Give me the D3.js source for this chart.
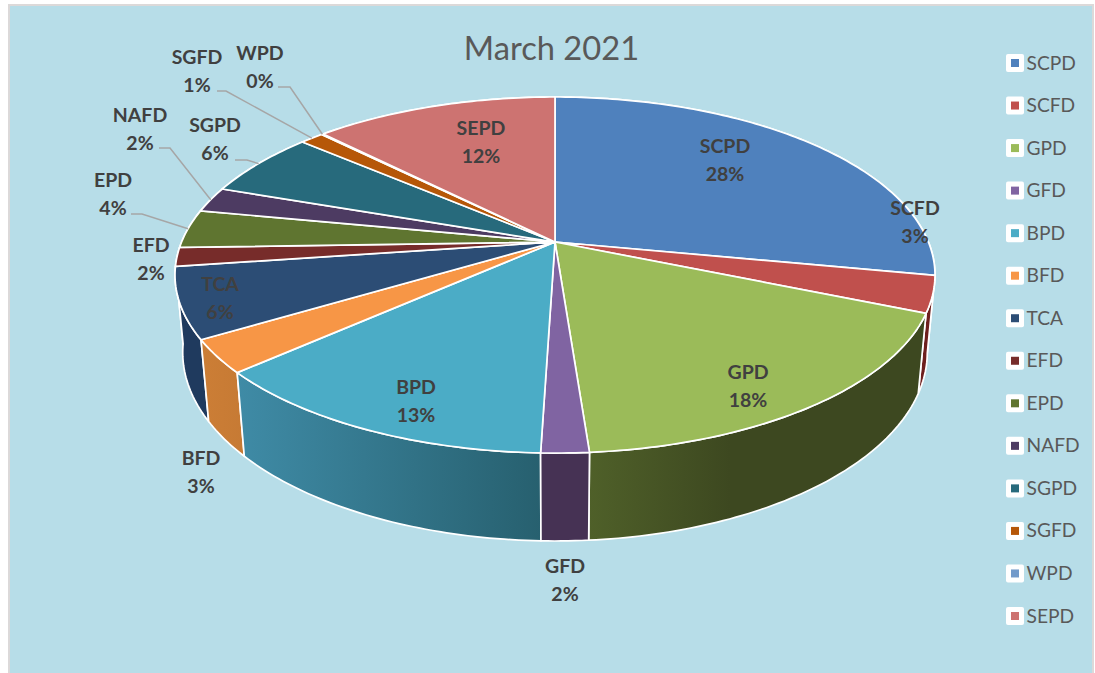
<!DOCTYPE html>
<html>
<head>
<meta charset="utf-8">
<script src="https://cdn.jsdelivr.net/npm/d3@7"></script>
<style>
  html, body { margin: 0; padding: 0; background: #fff; }
  svg { display: block; }
</style>
</head>
<body>
<svg width="1095" height="673"></svg>
<script>
var chartTitle = "March 2021";
var categories = ["SCPD", "SCFD", "GPD", "GFD", "BPD", "BFD", "TCA", "EFD", "EPD", "NAFD", "SGPD", "SGFD", "WPD", "SEPD"];
var shares = [28, 3.3, 17.5, 1.7, 12.9, 3, 6.4, 1.7, 3.5, 2.3, 6, 1.2, 0.1, 12.4];
var topColors = ["#4f81bd", "#c0504d", "#9bbb59", "#8064a2", "#4bacc6", "#f79646", "#2c4d75", "#772c2a", "#5f7530", "#4d3b62", "#276a7c", "#b65708", "#729aca", "#cd7371"];
// wall shading, left to right
var wallLeft = ["#2f4d71", "#6e1f1e", "#4f6029", "#463254", "#3f8ba6", "#cc7e36", "#1f3a5e", "#4a1a19", "#3c4a1e", "#2f243d", "#184250", "#713605", "#47607e", "#7f4746"];
var wallRight = ["#2f4d71", "#6e1f1e", "#3d4820", "#463254", "#27606f", "#c67a34", "#1f3a5e", "#4a1a19", "#3c4a1e", "#2f243d", "#184250", "#713605", "#47607e", "#7f4746"];

// label centres, and where a leader line leaves the label (if it has one)
var labelAt = {
  SCPD: [725, 160], SCFD: [915, 222], GPD: [748, 386], GFD: [565, 580], BPD: [416, 401], BFD: [201, 472], TCA: [220, 298],
  EFD: [151, 259], EPD: [113, 194], NAFD: [140, 129], SGPD: [215, 139], SGFD: [197, 71], WPD: [260, 67], SEPD: [481, 142]
};
var leaderFrom = {
  EPD: [[131, 214], [142, 214]], NAFD: [[159, 148], [170, 148]], SGPD: [[235, 160], [247, 160]],
  SGFD: [[217, 91], [226, 91]], WPD: [[278, 87], [290, 87]]
};

var svg = d3.select("svg");
var defs = svg.append("defs");

// chart area
svg.append("rect").attr("x", 8).attr("y", 4).attr("width", 1086).attr("height", 669).attr("fill", "#dcd9d9");
svg.append("rect").attr("x", 10).attr("y", 6).attr("width", 1082).attr("height", 667).attr("fill", "#b7dde8");

// perspective of the pie: u is across, v is into the page, z is the drop to the bottom face
var apex = [555, 242], a = 373.4, b = 171.9, k = 0.1855, drop = 77.6, dropW = 0.02;
function project(angle, z) {
  var u = Math.sin(angle), v = Math.cos(angle), w = 1 + k * v + dropW * z;
  return [apex[0] + a * u / w, apex[1] + (-b * v + drop * z) / w];
}

var pie = d3.pie().sort(null);
var arcs = pie(shares);
var line = d3.line();

function rim(d, z) {
  var n = Math.max(2, Math.ceil((d.endAngle - d.startAngle) * 60));
  return d3.range(n + 1).map(function(i) {
    return project(d.startAngle + (d.endAngle - d.startAngle) * i / n, z);
  });
}

// walls first, far ones before near ones
arcs.forEach(function(d, i) {
  var pts = rim(d, 1).concat(rim(d, 0).reverse());
  d.wall = pts;
  d.depth = Math.cos((d.startAngle + d.endAngle) / 2);
  var xs = d3.extent(pts, function(p) { return p[0]; });
  var g = defs.append("linearGradient").attr("id", "wall" + i)
      .attr("gradientUnits", "userSpaceOnUse")
      .attr("x1", xs[0]).attr("x2", i == 2 ? xs[0] + (xs[1] - xs[0]) * 0.42 : xs[1])
      .attr("y1", 0).attr("y2", 0);
  g.append("stop").attr("offset", 0).attr("stop-color", wallLeft[i]);
  g.append("stop").attr("offset", 1).attr("stop-color", wallRight[i]);
});

svg.append("g").selectAll("path")
    .data(arcs.slice().sort(function(p, q) { return q.depth - p.depth; }))
    .enter().append("path")
    .attr("d", function(d) { return line(d.wall) + "Z"; })
    .attr("fill", function(d) { return "url(#wall" + d.index + ")"; })
    .attr("stroke", "#fff")
    .attr("stroke-width", 1.7)
    .attr("stroke-linejoin", "round");

svg.append("g").selectAll("path")
    .data(arcs)
    .enter().append("path")
    .attr("d", function(d) { return line([apex].concat(rim(d, 0))) + "Z"; })
    .attr("fill", function(d, i) { return topColors[i]; })
    .attr("stroke", "#fff")
    .attr("stroke-width", 1.7)
    .attr("stroke-linejoin", "round");

// leader lines end on the rim at the middle of the slice
svg.append("g").selectAll("path")
    .data(arcs.filter(function(d) { return leaderFrom[categories[d.index]]; }))
    .enter().append("path")
    .attr("d", function(d) {
      return line(leaderFrom[categories[d.index]].concat([project((d.startAngle + d.endAngle) / 2, 0)]));
    })
    .attr("fill", "none")
    .attr("stroke", "#a6a6a6")
    .attr("stroke-width", 1.5);

// data labels
var labels = svg.append("g").selectAll("text")
    .data(arcs)
    .enter().append("text")
    .attr("text-anchor", "middle")
    .attr("font-family", "Lato, 'Open Sans', sans-serif")
    .attr("font-weight", 700)
    .attr("font-size", 19.5)
    .attr("fill", "#404040")
    .attr("transform", function(d) { return "translate(" + labelAt[categories[d.index]] + ")"; });
labels.append("tspan").attr("x", 0).attr("y", -7).text(function(d) { return categories[d.index]; });
labels.append("tspan").attr("x", 0).attr("y", 21).text(function(d) { return Math.round(d.value) + "%"; });

svg.append("text")
    .attr("x", 551.5)
    .attr("y", 60)
    .attr("text-anchor", "middle")
    .attr("font-family", "Lato, 'Open Sans', sans-serif")
    .attr("font-size", 32.7)
    .attr("fill", "#595959")
    .text(chartTitle);

// legend
var legendY = d3.scalePoint().domain(categories).range([63, 616]);
var legend = svg.append("g").selectAll("g")
    .data(categories)
    .enter().append("g")
    .attr("transform", function(d) { return "translate(0," + legendY(d) + ")"; });
legend.append("rect").attr("x", 1006).attr("y", -9).attr("width", 18).attr("height", 18).attr("rx", 2).attr("fill", "#fff");
legend.append("rect").attr("x", 1011).attr("y", -4).attr("width", 8).attr("height", 8)
    .attr("fill", function(d, i) { return topColors[i]; });
legend.append("text")
    .attr("x", 1026.5)
    .attr("y", 6.5)
    .attr("font-family", "Lato, 'Open Sans', sans-serif")
    .attr("font-size", 19.2)
    .attr("fill", "#595959")
    .text(function(d) { return d; });
</script>
</body>
</html>
